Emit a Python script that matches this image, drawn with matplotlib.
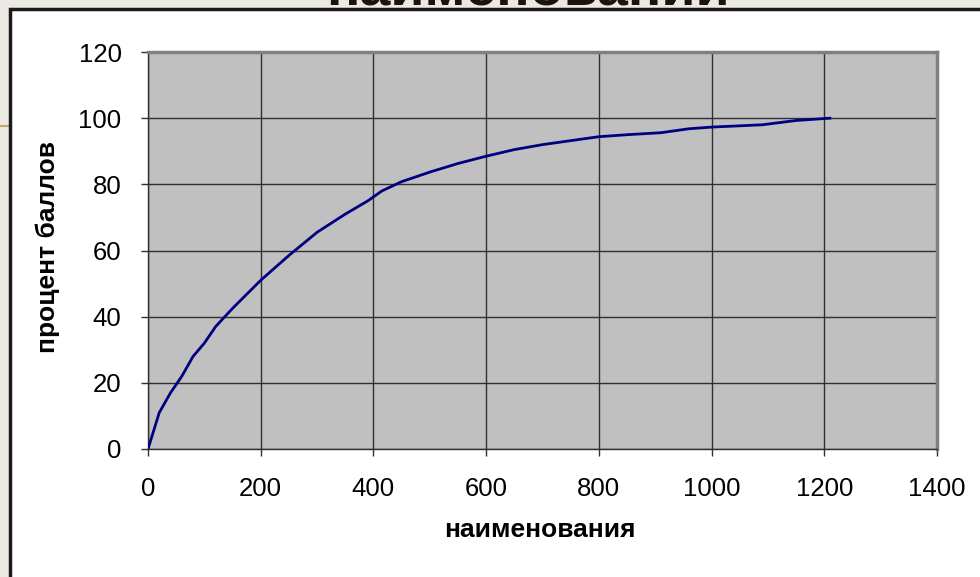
import matplotlib
matplotlib.use("Agg")
import matplotlib.pyplot as plt
from matplotlib.patches import Rectangle
from matplotlib.lines import Line2D

# Data
items = [0, 20, 40, 60, 80, 100, 120, 150, 200, 250, 300, 350, 390, 415, 450,
         500, 550, 600, 650, 700, 750, 800, 850, 910, 960, 1000, 1090, 1150, 1210]
percent = [0, 11, 17, 22, 28, 32, 37, 42.5, 51, 58.5, 65.5, 71, 75, 78, 80.8,
           83.7, 86.3, 88.5, 90.5, 92, 93.2, 94.4, 95, 95.6, 96.8, 97.3, 98, 99.3, 100]
x_ticks = [0, 200, 400, 600, 800, 1000, 1200, 1400]
y_ticks = [0, 20, 40, 60, 80, 100, 120]
title = "наименований"
x_label = "наименования"
y_label = "процент баллов"

W, H = 980, 577
fig = plt.figure(figsize=(W / 100, H / 100), dpi=100)
fig.patch.set_facecolor("#ECE9E5")

fig.text(528 / W, 1 - 6 / H, title, ha="center", va="baseline",
         fontsize=40, fontweight="bold", family="Liberation Sans", color="#1a1410",
         zorder=-3)

# slide decoration line on the left
fig.lines.append(Line2D([0, 10 / W], [1 - 126 / H, 1 - 126 / H], transform=fig.transFigure,
                        color="#C9A96A", linewidth=1.5, zorder=-2))

# white slide box (drawn over the title, like in the slide)
box = Rectangle((10 / W, -0.1), 1.2, 1 - 9 / H + 0.1, transform=fig.transFigure,
                facecolor="white", edgecolor="#1a1a1a", linewidth=2.5, zorder=-1)
fig.patches.append(box)

ax = fig.add_axes([148 / W, 1 - 449 / H, (937 - 148) / W, (449 - 52) / H])
ax.set_zorder(2)
ax.set_facecolor("#C0C0C0")
ax.plot(items, percent, color="#000080", linewidth=2, zorder=3)
ax.set_xlim(0, 1400)
ax.set_ylim(0, 120)
ax.set_xticks(x_ticks)
ax.set_yticks(y_ticks)
ax.grid(True, color="#303030", linewidth=1, zorder=1)
ax.set_axisbelow(True)
for s in ["top", "right"]:
    ax.spines[s].set_color("#808080")
    ax.spines[s].set_linewidth(2.5)
for s in ["left", "bottom"]:
    ax.spines[s].set_color("#303030")
    ax.spines[s].set_linewidth(1)
ax.tick_params(axis="both", direction="out", length=5, width=1, color="#303030",
               labelsize=18.5, labelcolor="black")
for lab in ax.get_xticklabels() + ax.get_yticklabels():
    lab.set_family("Liberation Sans")
ax.tick_params(axis="x", pad=15)
ax.tick_params(axis="y", pad=14)

fig.text(540 / W, 1 - 530 / H, x_label, ha="center", va="center",
         fontsize=19, fontweight="bold", family="Liberation Sans")
fig.text(48 / W, 1 - 247 / H, y_label, ha="center", va="center", rotation=90,
         fontsize=19, fontweight="bold", family="Liberation Sans")

fig.savefig("out.png", dpi=100, facecolor=fig.get_facecolor())
